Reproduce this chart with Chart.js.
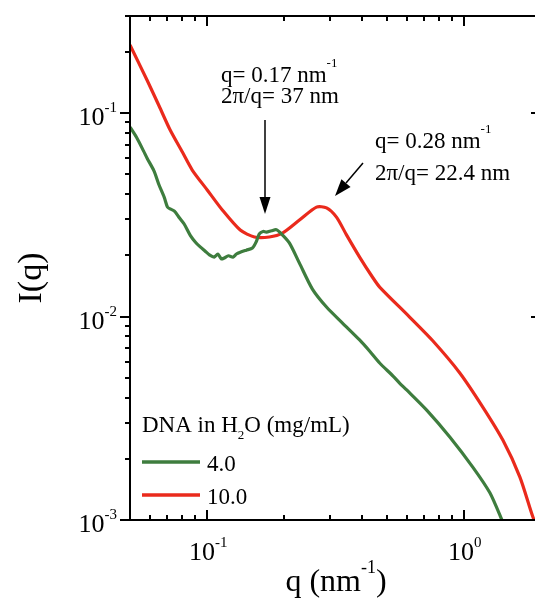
<!DOCTYPE html>
<html>
<head>
<meta charset="utf-8">
<script src="https://cdn.jsdelivr.net/npm/chart.js@4.4.1/dist/chart.umd.min.js"></script>
<style>
  html, body { margin: 0; padding: 0; background: #fff; overflow: hidden; }
  #wrap { width: 545px; height: 606px; }
</style>
</head>
<body>
<div id="wrap"><canvas id="saxs" width="545" height="606"></canvas></div>
<script>
// series (DNA concentration in mg/mL)
const seriesLabels = ['4.0', '10.0'];
const seriesColors = ['#3e7d3e', '#ea2a1c'];

// 4.0 mg/mL
const qGreen = [0.05, 0.053, 0.0565, 0.0583, 0.062, 0.0649, 0.068, 0.070, 0.0717, 0.0745, 0.078, 0.0813,
  0.086, 0.090, 0.0939, 0.098, 0.102, 0.1065, 0.110, 0.1135, 0.1165, 0.121, 0.126, 0.130, 0.1345,
  0.142, 0.150, 0.155, 0.1596, 0.165, 0.170, 0.178, 0.186, 0.1946, 0.209, 0.2288, 0.257, 0.2917,
  0.3367, 0.3926, 0.430, 0.470, 0.530, 0.562, 0.599, 0.717, 0.882, 1.084, 1.264, 1.408, 1.5];
const iGreen = [0.0853, 0.076, 0.065, 0.060, 0.052, 0.0443, 0.0385, 0.0345, 0.0338, 0.0330, 0.0305, 0.0285,
  0.0250, 0.0232, 0.0220, 0.0210, 0.0201, 0.0196, 0.0203, 0.0192, 0.0194, 0.0199, 0.0196, 0.0203, 0.0207,
  0.0212, 0.0217, 0.0232, 0.0255, 0.0262, 0.0260, 0.0264, 0.0267, 0.0255, 0.0230, 0.0183, 0.01365, 0.01114,
  0.00929, 0.00767, 0.00675, 0.00591, 0.0051, 0.00471, 0.00436, 0.00347, 0.00256, 0.00182, 0.00136, 0.0010, 0.00082];

// 10.0 mg/mL
const qRed = [0.05, 0.0583, 0.065, 0.0717, 0.080, 0.0874, 0.100, 0.1145, 0.1345, 0.1527, 0.1746,
  0.1963, 0.2288, 0.2667, 0.2917, 0.319, 0.349, 0.3926, 0.441, 0.470, 0.615, 0.757, 0.965, 1.186,
  1.420, 1.655, 1.860, 2.0];
const iRed = [0.216, 0.145, 0.108, 0.0825, 0.0643, 0.0525, 0.0419, 0.0334, 0.0266, 0.0246, 0.0246,
  0.0257, 0.0298, 0.0345, 0.0342, 0.0308, 0.0252, 0.0196, 0.0156, 0.01396, 0.00994, 0.0076, 0.00528, 0.00359,
  0.00247, 0.001626, 0.001035, 0.00083];

// axes
const xRange = [0.05, 2];
const yRange = [0.001, 0.3];
const xTickLabels = ['10^-1', '10^0'];
const yTickLabels = ['10^-3', '10^-2', '10^-1'];
const tickMantissas = [1, 2, 3, 4, 5, 6, 7, 8, 9];

const serif = '"Liberation Serif", "Times New Roman", serif';
const font = px => px + 'px ' + serif;

// draw runs of text [text, size, dy] starting at x (baseline y)
function drawRuns(ctx, runs, x, y, align) {
  let total = 0;
  runs.forEach(r => { ctx.font = font(r[1]); total += ctx.measureText(r[0]).width; });
  let cx = align === 'right' ? x - total : align === 'center' ? x - total / 2 : x;
  ctx.textAlign = 'left';
  ctx.textBaseline = 'alphabetic';
  runs.forEach(r => {
    ctx.font = font(r[1]);
    ctx.fillText(r[0], cx, y + (r[2] || 0));
    cx += ctx.measureText(r[0]).width;
  });
}

function powerRuns(label, size) {
  const [base, exp] = label.split('^');
  return [[base, size, 0], [exp, Math.round(size * 0.56), -Math.round(size * 0.5)]];
}

function seg(ctx, x1, y1, x2, y2) {
  ctx.beginPath();
  ctx.moveTo(x1, y1);
  ctx.lineTo(x2, y2);
  ctx.stroke();
}

function arrow(ctx, x1, y1, x2, y2, headLen, headW) {
  const a = Math.atan2(y2 - y1, x2 - x1);
  const bx = x2 - headLen * Math.cos(a), by = y2 - headLen * Math.sin(a);
  seg(ctx, x1, y1, bx, by);
  ctx.beginPath();
  ctx.moveTo(x2, y2);
  ctx.lineTo(bx + headW * Math.sin(a), by - headW * Math.cos(a));
  ctx.lineTo(bx - headW * Math.sin(a), by + headW * Math.cos(a));
  ctx.closePath();
  ctx.fill();
}

// log tick values inside a range: 1..9 x 10^n
function logTicks(range) {
  const out = [];
  for (let e = Math.floor(Math.log10(range[0])); e <= Math.ceil(Math.log10(range[1])); e++) {
    tickMantissas.forEach(m => {
      const v = m * Math.pow(10, e);
      if (v >= range[0] * 0.999 && v <= range[1] * 1.001) out.push({ v, major: m === 1 });
    });
  }
  return out;
}

const decor = {
  id: 'decor',
  afterDraw(chart) {
    const ctx = chart.ctx;
    const area = chart.chartArea;
    const xs = chart.scales.x, ys = chart.scales.y;
    ctx.save();
    ctx.globalAlpha = 1;
    ctx.setLineDash([]);
    ctx.fillStyle = '#000';
    ctx.strokeStyle = '#000';

    // frame (filled bars, 2px)
    const L = Math.round(area.left), R = Math.round(area.right);
    const T = Math.round(area.top), B = Math.round(area.bottom);
    ctx.fillRect(L - 1, T - 1, R - L + 2, 2);
    ctx.fillRect(L - 1, B - 1, R - L + 2, 2);
    ctx.fillRect(L - 1, T - 1, 2, B - T + 2);
    ctx.fillRect(R - 1, T - 1, 2, B - T + 2);

    // ticks: x inside (bottom and top), y outside on left, inside on right
    logTicks(xRange).forEach(t => {
      const px = Math.round(xs.getPixelForValue(t.v));
      const len = t.major ? 10 : 5;
      ctx.fillRect(px - 1, B - len, 2, len);
      ctx.fillRect(px - 1, T, 2, len);
    });
    logTicks(yRange).forEach(t => {
      const py = Math.round(ys.getPixelForValue(t.v));
      const len = t.major ? 10 : 5;
      ctx.fillRect(L - len, py - 1, len, 2);
      ctx.fillRect(R - len, py - 1, len, 2);
    });

    // tick labels
    xTickLabels.forEach(lbl => {
      const v = Math.pow(10, Number(lbl.split('^')[1]));
      drawRuns(ctx, powerRuns(lbl, 26), xs.getPixelForValue(v) + 1, B + 40, 'center');
    });
    yTickLabels.forEach(lbl => {
      const v = Math.pow(10, Number(lbl.split('^')[1]));
      drawRuns(ctx, powerRuns(lbl, 26), L - 13, ys.getPixelForValue(v) + 12, 'right');
    });

    // axis titles
    drawRuns(ctx, [['q (nm', 32, 0], ['-1', 18, -18], [')', 32, 0]], 336, 591, 'center');
    ctx.save();
    ctx.translate(41, 278);
    ctx.rotate(-Math.PI / 2);
    ctx.font = font(34);
    ctx.textAlign = 'center';
    ctx.textBaseline = 'alphabetic';
    ctx.fillText('I(q)', 0, 0);
    ctx.restore();

    // annotations
    drawRuns(ctx, [['q= 0.17 nm', 23, 0], ['-1', 13, -15]], 221, 82, 'left');
    drawRuns(ctx, [['2\u03c0/q= 37 nm', 23, 0]], 221, 103, 'left');
    drawRuns(ctx, [['q= 0.28 nm', 23, 0], ['-1', 13, -15]], 375, 148, 'left');
    drawRuns(ctx, [['2\u03c0/q= 22.4 nm', 23, 0]], 375, 180, 'left');
    ctx.lineWidth = 1.5;
    arrow(ctx, 265, 120, 265, 214, 17, 5.5);
    arrow(ctx, 363, 163, 335, 196, 17, 6);

    // legend
    drawRuns(ctx, [['DNA in H', 23, 0], ['2', 13, 7], ['O (mg/mL)', 23, 0]], 142, 432, 'left');
    const rowsY = [462, 495];
    chart.data.datasets.forEach((ds, i) => {
      ctx.strokeStyle = ds.borderColor;
      ctx.lineWidth = 3.5;
      seg(ctx, 142, rowsY[i], 200, rowsY[i]);
      drawRuns(ctx, [[ds.label, 23, 0]], 207, rowsY[i] + 9, 'left');
    });
    ctx.restore();
  }
};

const toPoints = (qs, is) => qs.map((q, i) => ({ x: q, y: is[i] }));

new Chart(document.getElementById('saxs'), {
  type: 'line',
  data: {
    datasets: [
      { label: seriesLabels[0], data: toPoints(qGreen, iGreen), borderColor: seriesColors[0] },
      { label: seriesLabels[1], data: toPoints(qRed, iRed), borderColor: seriesColors[1] }
    ]
  },
  options: {
    responsive: false,
    animation: false,
    layout: { padding: { left: 0, top: 16, right: 4, bottom: 0 } },
    elements: {
      point: { radius: 0 },
      line: { borderWidth: 3.2, tension: 0.25, fill: false }
    },
    plugins: { legend: { display: false }, tooltip: { enabled: false } },
    scales: {
      x: {
        type: 'logarithmic', min: xRange[0], max: xRange[1],
        grid: { display: false }, border: { display: false },
        ticks: { display: false, autoSkip: false },
        afterFit: s => { s.height = 86; }
      },
      y: {
        type: 'logarithmic', min: yRange[0], max: yRange[1],
        grid: { display: false }, border: { display: false },
        ticks: { display: false, autoSkip: false },
        afterFit: s => { s.width = 130; }
      }
    }
  },
  plugins: [decor]
});
</script>
</body>
</html>
